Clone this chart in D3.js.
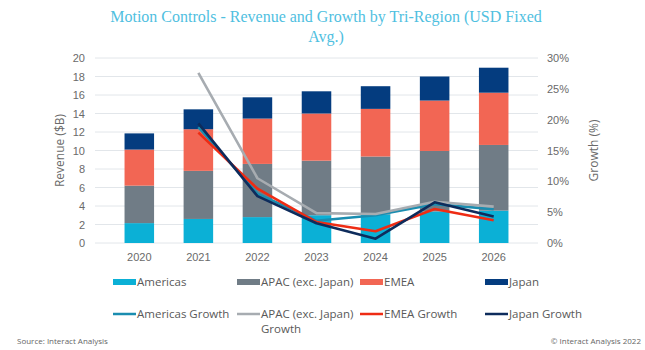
<!DOCTYPE html>
<html>
<head>
<meta charset="utf-8">
<script src="https://cdn.jsdelivr.net/npm/d3@7"></script>
<style>
  body { margin: 0; background: #fff; }
  svg { font-family: "Open Sans", sans-serif; }
  .title { font-family: "Liberation Serif", serif; fill: #4fc0df; font-size: 16px; }
  .tick text { fill: #6a6a6a; font-size: 11px; }
  .axis-title { fill: #6a6a6a; font-size: 12px; }
  .legend text { fill: #595959; font-size: 11.5px; }
  .note { fill: #666; font-size: 8px; }
</style>
</head>
<body>
<svg id="chart" width="645" height="350"></svg>
<script>
// data
const years = ["2020", "2021", "2022", "2023", "2024", "2025", "2026"];
const americas = [2.15, 2.6, 2.8, 3.0, 3.1, 3.4, 3.5];
const apac = [4.05, 5.2, 5.75, 5.9, 6.25, 6.55, 7.1];
const emea = [3.9, 4.5, 4.9, 5.1, 5.15, 5.45, 5.65];
const japan = [1.75, 2.15, 2.3, 2.4, 2.45, 2.6, 2.7];

const growthYears = ["2021", "2022", "2023", "2024", "2025", "2026"];
const americasGrowth = [18.8, 8.0, 3.6, 4.5, 6.3, 5.5];
const apacGrowth = [27.6, 10.5, 4.85, 4.7, 6.7, 5.9];
const emeaGrowth = [17.9, 8.8, 3.4, 1.9, 5.5, 3.7];
const japanGrowth = [19.4, 7.6, 3.2, 0.7, 6.6, 4.3];

const leftTicks = [0, 2, 4, 6, 8, 10, 12, 14, 16, 18, 20];
const rightTicks = [0, 5, 10, 15, 20, 25, 30];

const series = [
  {key: "americas", name: "Americas", values: americas, color: "#0bb0d6"},
  {key: "apac", name: "APAC (exc. Japan)", values: apac, color: "#707c86"},
  {key: "emea", name: "EMEA", values: emea, color: "#f26654"},
  {key: "japan", name: "Japan", values: japan, color: "#043c7f"}
];
const lines = [
  {name: ["Americas Growth"], values: americasGrowth, color: "#1a8db0"},
  {name: ["APAC (exc. Japan)", "Growth"], values: apacGrowth, color: "#a7acb1"},
  {name: ["EMEA Growth"], values: emeaGrowth, color: "#ee2c14"},
  {name: ["Japan Growth"], values: japanGrowth, color: "#0e2c5c"}
];

const margin = {top: 58, right: 107, bottom: 107, left: 95};
const width = 645 - margin.left - margin.right;
const height = 350 - margin.top - margin.bottom;

const svg = d3.select("#chart");
const chart = svg.append("g").attr("transform", "translate(" + margin.left + "," + margin.top + ")");

const x = d3.scaleBand().domain(years).range([0, width]).padding(0.5);
const y = d3.scaleLinear().domain([0, 20]).range([height, 0]);
const y2 = d3.scaleLinear().domain([0, 30]).range([height, 0]);

// title
svg.append("text").attr("class", "title").attr("x", 326).attr("y", 22)
  .attr("text-anchor", "middle").text("Motion Controls - Revenue and Growth by Tri-Region (USD Fixed");
svg.append("text").attr("class", "title").attr("x", 326).attr("y", 42)
  .attr("text-anchor", "middle").text("Avg.)");

// gridlines
chart.selectAll(".grid").data(leftTicks).enter()
  .append("line").attr("class", "grid")
    .attr("x1", 0).attr("x2", width)
    .attr("y1", d => y(d)).attr("y2", d => y(d))
    .attr("stroke", "#e2e6ea").attr("stroke-width", 1);

// axes
const leftAxis = chart.append("g").call(d3.axisLeft(y).tickValues(leftTicks).tickSize(0).tickPadding(10));
leftAxis.select(".domain").remove();
const rightAxis = chart.append("g").attr("transform", "translate(" + width + ",0)")
  .call(d3.axisRight(y2).tickValues(rightTicks).tickSize(0).tickPadding(9).tickFormat(d => d + "%"));
rightAxis.select(".domain").remove();
const bottomAxis = chart.append("g").attr("transform", "translate(0," + height + ")")
  .call(d3.axisBottom(x).tickSize(0).tickPadding(10));
bottomAxis.select(".domain").remove();

chart.append("text").attr("class", "axis-title")
  .attr("transform", "translate(-31," + (height / 2) + ") rotate(-90)")
  .attr("text-anchor", "middle").text("Revenue ($B)");
chart.append("text").attr("class", "axis-title")
  .attr("transform", "translate(" + (width + 60) + "," + (height / 2) + ") rotate(-90)")
  .attr("text-anchor", "middle").text("Growth (%)");

// stacked bars
const rows = years.map((yr, i) => {
  const r = {year: yr};
  series.forEach(s => { r[s.key] = s.values[i]; });
  return r;
});
const stacked = d3.stack().keys(series.map(s => s.key))(rows);
chart.selectAll(".layer").data(stacked).enter()
  .append("g").attr("class", "layer")
    .attr("fill", (d, i) => series[i].color)
  .selectAll("rect").data(d => d).enter()
  .append("rect")
    .attr("x", d => x(d.data.year))
    .attr("width", x.bandwidth())
    .attr("y", d => y(d[1]))
    .attr("height", d => y(d[0]) - y(d[1]));

// growth lines
const line = d3.line()
  .x((d, i) => x(growthYears[i]) + x.bandwidth() / 2)
  .y(d => y2(d));
chart.selectAll(".growth").data(lines).enter()
  .append("path").attr("class", "growth")
    .attr("d", d => line(d.values))
    .attr("fill", "none")
    .attr("stroke", d => d.color)
    .attr("stroke-width", 2.6)
    .attr("stroke-linejoin", "round");

// legend
const legendX = [113, 237, 360, 485];
const leg1 = svg.append("g").attr("class", "legend");
series.forEach((s, i) => {
  leg1.append("rect").attr("x", legendX[i]).attr("y", 279).attr("width", 23).attr("height", 6).attr("fill", s.color);
  leg1.append("text").attr("x", legendX[i] + 24).attr("y", 286).text(s.name);
});
lines.forEach((s, i) => {
  leg1.append("line").attr("x1", legendX[i]).attr("x2", legendX[i] + 23)
    .attr("y1", 314).attr("y2", 314).attr("stroke", s.color).attr("stroke-width", 2.5);
  s.name.forEach((t, j) => {
    leg1.append("text").attr("x", legendX[i] + 24).attr("y", 318 + j * 15).text(t);
  });
});

svg.append("text").attr("class", "note").attr("x", 17).attr("y", 344).text("Source: Interact Analysis");
svg.append("text").attr("class", "note").attr("x", 641).attr("y", 344).attr("text-anchor", "end").text("© Interact Analysis 2022");
</script>
</body>
</html>
